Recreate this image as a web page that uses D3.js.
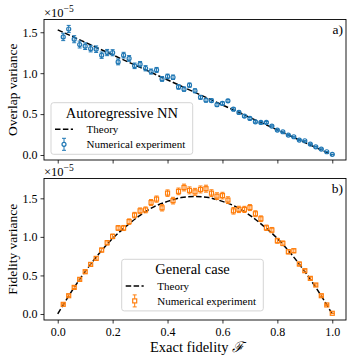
<!DOCTYPE html>
<html>
<head>
<meta charset="utf-8">
<script src="https://cdn.jsdelivr.net/npm/d3@7"></script>
<style>
  body { margin: 0; background: #fff; }
  svg text { font-family: "Liberation Serif", "DejaVu Serif", serif; fill: #000; }
</style>
</head>
<body>
<svg id="chart"></svg>
<script>
// exact fidelity values of the experiment points
const fidelity = [0.02, 0.04, 0.06, 0.08, 0.10, 0.12, 0.14, 0.16, 0.18, 0.20,
  0.22, 0.24, 0.26, 0.28, 0.30, 0.32, 0.34, 0.36, 0.38, 0.40,
  0.42, 0.44, 0.46, 0.48, 0.50, 0.52, 0.54, 0.56, 0.58, 0.60,
  0.62, 0.64, 0.66, 0.68, 0.70, 0.72, 0.74, 0.76, 0.78, 0.80,
  0.82, 0.84, 0.86, 0.88, 0.90, 0.92, 0.94, 0.96, 0.98, 1.00];

// panel a) overlap variance (x1e-5)
const overlapVar = [1.443, 1.54, 1.415, 1.35, 1.33, 1.30, 1.293, 1.22, 1.252, 1.25,
  1.138, 1.22, 1.18, 1.09, 1.11, 1.06, 1.02, 1.04, 0.93, 0.96,
  0.95, 0.832, 0.805, 0.854, 0.785, 0.705, 0.67, 0.665, 0.614, 0.63,
  0.662, 0.56, 0.52, 0.476, 0.447, 0.406, 0.398, 0.398, 0.354, 0.305,
  0.284, 0.244, 0.223, 0.183, 0.174, 0.134, 0.10, 0.073, 0.04, 0.008];
const overlapErr = [0.045, 0.044, 0.043, 0.042, 0.041, 0.040, 0.040, 0.039, 0.038, 0.037,
  0.036, 0.035, 0.035, 0.034, 0.033, 0.032, 0.031, 0.030, 0.029, 0.028,
  0.027, 0.027, 0.026, 0.025, 0.024, 0.023, 0.022, 0.021, 0.020, 0.019,
  0.018, 0.017, 0.016, 0.015, 0.014, 0.013, 0.012, 0.011, 0.010, 0.009,
  0.008, 0.007, 0.006, 0.006, 0.005, 0.004, 0.003, 0.003, 0.002, 0.001];
const overlapTheoryF = [0, 1];
const overlapTheory = [1.53, 0];

// panel b) fidelity variance (x1e-5)
const fidelityVar = [0.125, 0.237, 0.345, 0.449, 0.548, 0.643, 0.721, 0.829, 0.924, 1.006,
  1.115, 1.115, 1.198, 1.282, 1.338, 1.35, 1.445, 1.49, 1.377, 1.567,
  1.47, 1.59, 1.64, 1.603, 1.584, 1.615, 1.625, 1.567, 1.528, 1.535,
  1.477, 1.338, 1.356, 1.356, 1.38, 1.30, 1.235, 1.118, 1.088, 0.95,
  0.916, 0.807, 0.82, 0.648, 0.561, 0.462, 0.376, 0.237, 0.117, 0.009];
const fidelityErr = [0.008, 0.012, 0.015, 0.018, 0.020, 0.022, 0.024, 0.026, 0.028, 0.030,
  0.032, 0.033, 0.035, 0.036, 0.037, 0.038, 0.039, 0.040, 0.041, 0.042,
  0.043, 0.043, 0.044, 0.045, 0.045, 0.045, 0.045, 0.044, 0.044, 0.043,
  0.043, 0.042, 0.041, 0.040, 0.039, 0.038, 0.037, 0.035, 0.034, 0.032,
  0.030, 0.028, 0.026, 0.024, 0.021, 0.018, 0.015, 0.012, 0.008, 0.002];
const fidelityTheoryF = [0, 0.05, 0.10, 0.15, 0.20, 0.25, 0.30, 0.35, 0.40, 0.45, 0.50,
  0.55, 0.60, 0.65, 0.70, 0.75, 0.80, 0.85, 0.90, 0.95, 1.00];
const fidelityTheory = [0, 0.29, 0.55, 0.78, 0.98, 1.14, 1.28, 1.39, 1.46, 1.51, 1.525,
  1.51, 1.46, 1.39, 1.28, 1.14, 0.98, 0.78, 0.55, 0.29, 0];

const xTicks = [0, 0.2, 0.4, 0.6, 0.8, 1.0];
const yTicks = [0, 0.5, 1.0, 1.5];

const width = 353, height = 359;
const svg = d3.select("#chart").attr("width", width).attr("height", height);

const x = d3.scaleLinear().domain([-0.05, 1.05]).range([44, 346]);
const fmt = d3.format(".1f");

function drawPanel(opts) {
    const y = d3.scaleLinear().domain(opts.ylim).range([opts.bottom, opts.top]);
    const g = svg.append("g");

    // theory curve
    const line = d3.line().x(d => x(d[0])).y(d => y(d[1])).curve(d3.curveMonotoneX);
    g.append("path")
        .datum(d3.zip(opts.theoryF, opts.theory))
        .attr("d", line)
        .attr("fill", "none")
        .attr("stroke", "#000")
        .attr("stroke-width", 1.5)
        .attr("stroke-dasharray", "5.5,2.4");

    // error bars
    const pts = fidelity.map((f, i) => ({f: f, v: opts.values[i], e: opts.errors[i]}));
    const eb = g.append("g").attr("stroke", opts.color).attr("stroke-width", 1);
    eb.selectAll("line.bar").data(pts).join("line")
        .attr("class", "bar")
        .attr("x1", d => x(d.f)).attr("x2", d => x(d.f))
        .attr("y1", d => y(d.v - d.e)).attr("y2", d => y(d.v + d.e));
    eb.selectAll("line.capLo").data(pts).join("line")
        .attr("class", "capLo")
        .attr("x1", d => x(d.f) - 2).attr("x2", d => x(d.f) + 2)
        .attr("y1", d => y(d.v - d.e)).attr("y2", d => y(d.v - d.e));
    eb.selectAll("line.capHi").data(pts).join("line")
        .attr("class", "capHi")
        .attr("x1", d => x(d.f) - 2).attr("x2", d => x(d.f) + 2)
        .attr("y1", d => y(d.v + d.e)).attr("y2", d => y(d.v + d.e));

    // markers
    const mk = g.append("g").attr("fill", "none").attr("stroke", opts.color).attr("stroke-width", 1.2);
    if (opts.marker === "circle") {
        mk.selectAll("circle").data(pts).join("circle")
            .attr("cx", d => x(d.f)).attr("cy", d => y(d.v)).attr("r", 2);
    } else {
        mk.selectAll("rect").data(pts).join("rect")
            .attr("x", d => x(d.f) - 2).attr("y", d => y(d.v) - 2)
            .attr("width", 4).attr("height", 4);
    }

    // axes
    const xAxis = d3.axisBottom(x).tickValues(xTicks).tickSize(3.5).tickPadding(2)
        .tickFormat(opts.xLabels ? fmt : "");
    const gx = g.append("g").attr("transform", `translate(0,${opts.bottom})`).call(xAxis);
    const yAxis = d3.axisLeft(y).tickValues(yTicks).tickSize(3.5).tickPadding(3).tickFormat(fmt);
    const gy = g.append("g").attr("transform", `translate(44,0)`).call(yAxis);
    [gx, gy].forEach(a => {
        a.select(".domain").remove();
        a.selectAll(".tick line").attr("stroke", "#000").attr("stroke-width", 0.8);
        a.selectAll(".tick text").style("font-family", "Liberation Serif").style("font-size", "12px").attr("fill", "#000");
    });
    gx.selectAll(".tick text").attr("dy", "0.85em");

    // frame
    g.append("rect")
        .attr("x", 44).attr("y", opts.top)
        .attr("width", 302).attr("height", opts.bottom - opts.top)
        .attr("fill", "none").attr("stroke", "#000").attr("stroke-width", 0.9);

    // offset text
    const off = g.append("text").attr("x", 44).attr("y", opts.top - 3).style("font-size", "12.5px");
    off.append("tspan").text("×10");
    off.append("tspan").attr("dy", -5).style("font-size", "9.5px").text("−5");

    // panel letter
    g.append("text").attr("x", 343).attr("y", opts.top + 14.5)
        .attr("text-anchor", "end").style("font-size", "13.5px").text(opts.letter);

    // y label
    g.append("text")
        .attr("transform", `translate(17,${(opts.top + opts.bottom) / 2}) rotate(-90)`)
        .attr("text-anchor", "middle").style("font-size", "13.5px").text(opts.yLabel);

    // legend
    const lg = g.append("g").attr("transform", `translate(${opts.legX},${opts.legY})`);
    lg.append("rect").attr("x", 0).attr("y", 0).attr("width", opts.legW).attr("height", 51.6)
        .attr("rx", 2.5).attr("fill", "#fff").attr("fill-opacity", 0.8)
        .attr("stroke", "#d0d0d0").attr("stroke-width", 0.9);
    lg.append("text").attr("x", opts.legW / 2).attr("y", 15)
        .attr("text-anchor", "middle").style("font-size", "14.5px").text(opts.title);
    lg.append("line").attr("x1", 4).attr("x2", 22).attr("y1", 26.6).attr("y2", 26.6)
        .attr("stroke", "#000").attr("stroke-width", 1.5).attr("stroke-dasharray", "5.5,2.4");
    lg.append("text").attr("x", 35.6).attr("y", 26.6).attr("dy", "0.35em")
        .style("font-size", "11px").text("Theory");
    const hx = 13, hy = 41.6;
    const h = lg.append("g").attr("stroke", opts.color);
    h.append("line").attr("x1", hx).attr("x2", hx).attr("y1", hy - 6).attr("y2", hy + 6).attr("stroke-width", 1);
    h.append("line").attr("x1", hx - 2).attr("x2", hx + 2).attr("y1", hy - 6).attr("y2", hy - 6).attr("stroke-width", 1);
    h.append("line").attr("x1", hx - 2).attr("x2", hx + 2).attr("y1", hy + 6).attr("y2", hy + 6).attr("stroke-width", 1);
    if (opts.marker === "circle") {
        h.append("circle").attr("cx", hx).attr("cy", hy).attr("r", 2).attr("fill", "#fff").attr("stroke-width", 1.2);
    } else {
        h.append("rect").attr("x", hx - 2).attr("y", hy - 2).attr("width", 4).attr("height", 4)
            .attr("fill", "#fff").attr("stroke-width", 1.2);
    }
    lg.append("text").attr("x", 35.6).attr("y", hy).attr("dy", "0.35em")
        .style("font-size", "11px").text("Numerical experiment");
}

drawPanel({
    top: 19.5, bottom: 160, ylim: [-0.061, 1.656],
    values: overlapVar, errors: overlapErr,
    theoryF: overlapTheoryF, theory: overlapTheory,
    color: "#1f77b4", marker: "circle", xLabels: false,
    letter: "a)", yLabel: "Overlap variance",
    title: "Autoregressive NN", legX: 51, legY: 102.7, legW: 141.7
});

drawPanel({
    top: 178.5, bottom: 320, ylim: [-0.078, 1.757],
    values: fidelityVar, errors: fidelityErr,
    theoryF: fidelityTheoryF, theory: fidelityTheory,
    color: "#ff7f0e", marker: "square", xLabels: true,
    letter: "b)", yLabel: "Fidelity variance",
    title: "General case", legX: 121.7, legY: 259.3, legW: 141.6
});

// x label
const xl = svg.append("text").attr("x", 197).attr("y", 352)
    .attr("text-anchor", "middle").style("font-size", "14.5px");
xl.append("tspan").text("Exact fidelity ");
xl.append("tspan").style("font-style", "italic").text("ℱ");
</script>
</body>
</html>
